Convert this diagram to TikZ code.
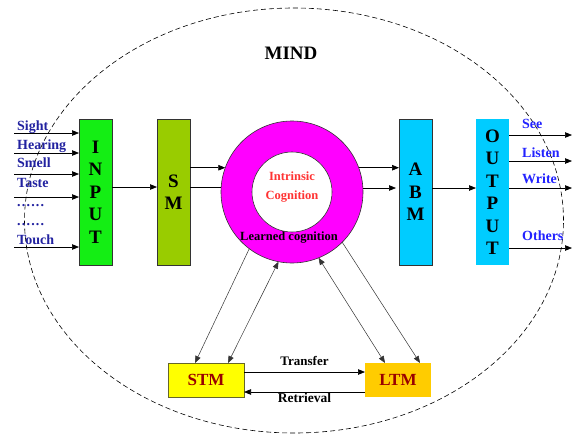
\documentclass[tikz,border=0pt]{standalone}
\usepackage{fontspec}
\setmainfont{Liberation Serif}
\usetikzlibrary{shapes.geometric, arrows.meta, positioning, calc}
\definecolor{inputgreen}{RGB}{20,238,20}
\definecolor{smgreen}{RGB}{153,204,0}
\definecolor{ringpink}{RGB}{255,0,255}
\definecolor{abmblue}{RGB}{0,204,255}
\definecolor{stmyellow}{RGB}{255,255,0}
\definecolor{stmedge}{RGB}{102,102,40}
\definecolor{ltmorange}{RGB}{255,204,0}
\definecolor{memred}{RGB}{153,0,0}
\definecolor{sensenavy}{RGB}{34,34,160}
\definecolor{actblue}{RGB}{34,34,255}
\definecolor{cogred}{RGB}{255,51,51}
\tikzstyle{tallbox} = [draw=black!80, line width=0.6pt, minimum width=33pt, minimum height=146pt, inner sep=0, outer sep=0, align=center, font=\bfseries\fontsize{19}{22.5}\selectfont]
\tikzstyle{membox} = [minimum height=34pt, inner sep=0, outer sep=0, text=memred, font=\bfseries\fontsize{17}{20}\selectfont]
\tikzstyle{sense} = [anchor=base west, inner sep=0, text=sensenavy, font=\bfseries\fontsize{14}{16}\selectfont]
\tikzstyle{act} = [anchor=base west, inner sep=0, text=actblue, font=\bfseries\fontsize{14}{16}\selectfont]
\tikzstyle{arrow} = [line width=0.7pt,->,>={Triangle[length=7pt,width=5.5pt]}]
\tikzstyle{line} = [line width=0.7pt]
\tikzstyle{link} = [line width=0.5pt, draw=black!80, ->, >={Triangle[length=7pt,width=5.5pt]}]
\tikzstyle{twoway} = [link, <->]

\begin{document}
\begin{tikzpicture}[x=1pt, y=-1pt]
    \useasboundingbox (0,0) rectangle (573,434);
    \node[ellipse, draw, line width=0.6pt, dash pattern=on 5pt off 3pt, minimum width=539pt, minimum height=425pt] (mind) at (294,220.5) {};
    \node[anchor=base, font=\bfseries\fontsize{19}{22}\selectfont] (mindlabel) at (291,59) {MIND};

    % main chain
    \node[tallbox, fill=inputgreen] (input) at (95.5,192) {I\\N\\P\\U\\T};
    \node[tallbox, fill=smgreen, right=45pt of input] (sm) {S\\M};
    \node[circle, draw=black!80, line width=0.6pt, fill=ringpink, minimum size=142pt, inner sep=0, outer sep=0, right=31pt of sm] (ring) {};
    \node[circle, draw=black!80, line width=0.6pt, fill=white, minimum size=80pt, inner sep=0] (core) at (ring.center) {};
    \node[align=center, text=cogred, font=\bfseries\fontsize{12.5}{19}\selectfont, yshift=5pt] (intrinsic) at (core.center) {Intrinsic\\Cognition};
    \node[anchor=base, inner sep=0, font=\bfseries\fontsize{12.5}{15}\selectfont] (learned) at (289,240) {Learned cognition};
    \node[tallbox, fill=abmblue, right=36pt of ring] (abm) {A\\B\\M};
    \node[tallbox, draw=none, fill=abmblue, right=44pt of abm] (output) {O\\U\\T\\P\\U\\T};

    % memories
    \node[membox, draw=stmedge, line width=0.8pt, fill=stmyellow, minimum width=76pt] (stm) at (206,380) {STM};
    \node[membox, fill=ltmorange, minimum width=66pt] (ltm) at (398,380) {LTM};

    % senses in
    \foreach \name/\txt/\ty/\ay in {sight/Sight/130/133, hearing/Hearing/149/153, smell/Smell/167/174, taste/Taste/187/197, touch/Touch/244/247} {
        \node[sense] (\name) at (17,\ty) {\txt};
        \coordinate (\name src) at (14,\ay);
        \draw[arrow] (\name src) -- (\name src -| input.west);
    }
    \node[sense] (dotsa) at (17,206) {.\kern1.2pt.\kern1.2pt.\kern1.2pt.\kern1.2pt.\kern1.2pt.};
    \node[sense] (dotsb) at (17,225) {.\kern1.2pt.\kern1.2pt.\kern1.2pt.\kern1.2pt.\kern1.2pt.};

    % actions out
    \foreach \name/\txt/\ty/\ay in {see/See/128/135, listen/Listen/157/161, write/Write/183/188, others/Others/240/248} {
        \node[act] (\name) at (522,\ty) {\txt};
        \coordinate (\name dst) at (572,\ay);
        \draw[arrow] (\name dst -| output.east) -- (\name dst);
    }

    \draw[arrow] ([yshift=5pt]input.east) -- ([yshift=5pt]input.east -| sm.west);
    \draw[arrow] (ring.160 -| sm.east) -- (ring.160);
    \draw[line] ([yshift=5pt]sm.east) -- ([yshift=5pt]sm.east -| ring.west);
    \draw[arrow] (ring.20) -- (ring.20 -| abm.west);
    \draw[arrow, shorten >=3pt] ([yshift=4pt]ring.east) -- ([yshift=4pt]ring.east -| abm.west);
    \draw[arrow] ([yshift=4pt]abm.east) -- ([yshift=4pt]abm.east -| output.west);

    \draw[link] (ring.233) -- ([xshift=-11pt]stm.north);
    \draw[twoway] (ring.259) -- ([xshift=22pt]stm.north);
    \draw[twoway] (ring.292) -- ([xshift=-13pt]ltm.north);
    \draw[link] (ring.315) -- ([xshift=22pt]ltm.north);

    \draw[arrow] ([yshift=8pt]stm.east) -- node[above=6pt, inner sep=0, font=\bfseries\fontsize{13}{15}\selectfont] (transfer) {Transfer} ([yshift=8pt]stm.east -| ltm.west);
    \draw[arrow] ([yshift=-12pt]ltm.west) -- node[below=1pt, inner sep=0, font=\bfseries\fontsize{13.5}{15}\selectfont] (retrieval) {Retrieval} ([yshift=-12pt]ltm.west -| stm.east);
\end{tikzpicture}
\end{document}
